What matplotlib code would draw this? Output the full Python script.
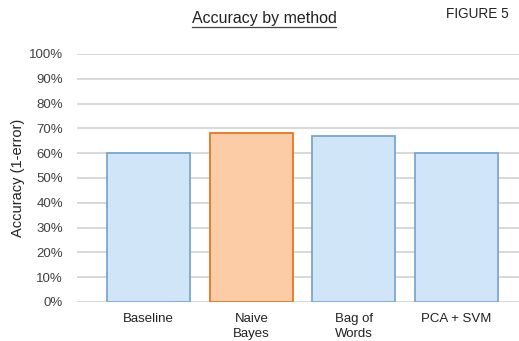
import matplotlib
matplotlib.use("Agg")
import matplotlib.pyplot as plt
from matplotlib.ticker import PercentFormatter

methods = ["Baseline", "Naive\nBayes", "Bag of\nWords", "PCA + SVM"]
accuracy = [60, 68, 67, 60]
highlight = "Naive\nBayes"

BLUE_FILL, BLUE_EDGE = "#d0e5f7", "#7ba7cf"
ORANGE_FILL, ORANGE_EDGE = "#fccca7", "#e8761f"
TXT = "#404040"

plt.rcParams["font.family"] = ["Liberation Sans", "DejaVu Sans"]

fig = plt.figure(figsize=(5.19, 3.41), dpi=100)
ax = fig.add_axes([77 / 519, 39 / 341, 442 / 519, 248 / 341])

x = list(range(len(methods)))
fills = [ORANGE_FILL if m == highlight else BLUE_FILL for m in methods]
edges = [ORANGE_EDGE if m == highlight else BLUE_EDGE for m in methods]
ax.bar(x, accuracy, width=0.81, color=fills, edgecolor=edges, linewidth=1.3, zorder=3)

ax.set_ylim(0, 100)
ax.set_yticks(range(0, 101, 10))
ax.yaxis.set_major_formatter(PercentFormatter(decimals=0))
ax.set_xlim(-0.70, 3.61)
ax.set_xticks(x)
ax.set_xticklabels(methods, fontsize=9.5, color="#222222", linespacing=1.35)
ax.tick_params(axis="y", labelsize=9.5, colors=TXT, length=0, pad=10)
ax.tick_params(axis="x", length=0, pad=8)
ax.grid(axis="y", color="#d6d6d6", linewidth=1.3, zorder=0)
for s in ax.spines.values():
    s.set_visible(False)

ax.set_ylabel("Accuracy (1-error)", fontsize=10.5, color="#222222", labelpad=3)

title = fig.text(264 / 519, 1 - 18 / 341, "Accuracy by method", ha="center", va="center",
                 fontsize=11.5, color="#222222")
fig.text(477 / 519, 1 - 14 / 341, "FIGURE 5", ha="center", va="center",
         fontsize=9.8, color="#222222")

# underline the title
fig.canvas.draw()
bb = title.get_window_extent(fig.canvas.get_renderer()).transformed(fig.transFigure.inverted())
fig.add_artist(plt.Line2D([bb.x0, bb.x1], [bb.y0 - 0.004, bb.y0 - 0.004],
                          transform=fig.transFigure, color="#444444", linewidth=0.9))

fig.savefig("out.png", dpi=100)
